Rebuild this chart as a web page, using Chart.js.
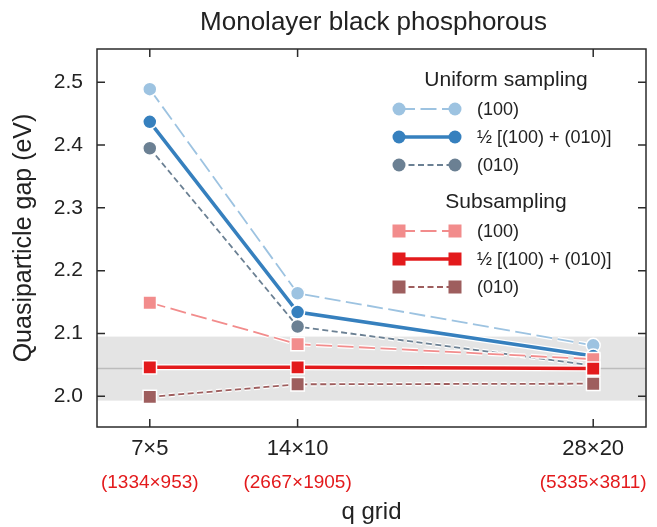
<!DOCTYPE html>
<html>
<head>
<meta charset="utf-8">
<script src="https://cdn.jsdelivr.net/npm/chart.js@4"></script>
<style>body{margin:0;background:#fff}</style>
</head>
<body>
<canvas id="chart" width="657" height="527"></canvas>
<script>
// q grids (kx is used as the x position), and the matching fine grids
const qGrid = [7, 14, 28];
const gridLabels = ['7×5', '14×10', '28×20'];
const fineLabels = ['(1334×953)', '(2667×1905)', '(5335×3811)'];
const yTicks = [2.0, 2.1, 2.2, 2.3, 2.4, 2.5];

// quasiparticle gaps (eV)
const uniform100 = [2.489, 2.164, 2.081];
const uniformAvg = [2.437, 2.134, 2.064];
const uniform010 = [2.395, 2.111, 2.049];
const sub100 = [2.149, 2.083, 2.059];
const subAvg = [2.046, 2.046, 2.044];
const sub010 = [1.999, 2.019, 2.020];

// reference gap and its band
const refGap = 2.044;
const refBand = [1.993, 2.095];

const groups = ['Uniform sampling', 'Subsampling'];

// drawing order: bottom first
const series = [
  {group: 0, row: 0, label: '(100)', data: uniform100, color: '#9dc3e1', dash: [16, 5.5], width: 1.8, marker: 'circle'},
  {group: 0, row: 2, label: '(010)', data: uniform010, color: '#6b8093', dash: [6, 3.5], width: 1.8, marker: 'circle'},
  {group: 0, row: 1, label: '½ [(100) + (010)]', data: uniformAvg, color: '#3680be', dash: [], width: 3.5, marker: 'circle'},
  {group: 1, row: 0, label: '(100)', data: sub100, color: '#f28c8c', dash: [16, 5.5], width: 1.8, marker: 'rect'},
  {group: 1, row: 2, label: '(010)', data: sub010, color: '#9e5e5e', dash: [6, 3.5], width: 1.8, marker: 'rect'},
  {group: 1, row: 1, label: '½ [(100) + (010)]', data: subAvg, color: '#e31a1c', dash: [], width: 3.5, marker: 'rect'}
];

const FONT = "'Liberation Sans', Arial, sans-serif";
Chart.defaults.font.family = FONT;
Chart.defaults.color = '#222';

const datasets = [];
series.forEach((s, k) => {
  const pts = qGrid.map((x, i) => ({x: x, y: s.data[i]}));
  // white halo under each line
  datasets.push({
    data: pts, borderColor: '#fff', borderWidth: s.width + 2.5, borderDash: s.dash,
    pointRadius: 0, order: 12 - 2 * k
  });
  datasets.push({
    label: s.label, data: pts, borderColor: s.color, borderWidth: s.width, borderDash: s.dash,
    pointStyle: s.marker, pointRadius: s.marker == 'rect' ? 9.5 : 7,
    pointBackgroundColor: s.color, pointBorderColor: '#fff', pointBorderWidth: 1.5,
    order: 11 - 2 * k
  });
});

function legendMarker(ctx, s, x, y) {
  ctx.fillStyle = s.color;
  if (s.marker == 'rect') {
    ctx.fillRect(x - 6.5, y - 6.5, 13, 13);
  } else {
    ctx.beginPath();
    ctx.arc(x, y, 6.5, 0, Math.PI * 2);
    ctx.fill();
  }
}

const decor = {
  id: 'decor',
  beforeDatasetsDraw(chart) {
    const {ctx, chartArea: a, scales: {y}} = chart;
    const top = y.getPixelForValue(refBand[1]);
    const bot = y.getPixelForValue(refBand[0]);
    const yc = y.getPixelForValue(refGap);
    ctx.save();
    ctx.fillStyle = '#e4e4e4';
    ctx.fillRect(a.left, top, a.right - a.left, bot - top);
    ctx.strokeStyle = '#bcbcbc';
    ctx.lineWidth = 1.5;
    ctx.beginPath();
    ctx.moveTo(a.left, yc);
    ctx.lineTo(a.right, yc);
    ctx.stroke();
    ctx.restore();
  },
  afterDraw(chart) {
    const {ctx, chartArea: a, scales: {x, y}} = chart;
    ctx.save();
    // frame + inward ticks
    ctx.strokeStyle = '#2b2b2b';
    ctx.lineWidth = 1.5;
    ctx.strokeRect(a.left, a.top, a.right - a.left, a.bottom - a.top);
    ctx.beginPath();
    qGrid.forEach(v => {
      const px = x.getPixelForValue(v);
      ctx.moveTo(px, a.bottom); ctx.lineTo(px, a.bottom - 8);
      ctx.moveTo(px, a.top); ctx.lineTo(px, a.top + 8);
    });
    yTicks.forEach(v => {
      const py = y.getPixelForValue(v);
      ctx.moveTo(a.left, py); ctx.lineTo(a.left + 8, py);
      ctx.moveTo(a.right, py); ctx.lineTo(a.right - 8, py);
    });
    ctx.stroke();

    // title
    ctx.fillStyle = '#222';
    ctx.font = '26px ' + FONT;
    ctx.textAlign = 'center';
    ctx.textBaseline = 'alphabetic';
    ctx.fillText('Monolayer black phosphorous', (a.left + a.right) / 2 + 2, 30);

    // legend
    const headY = [80, 202];
    const rowY = [[109, 137, 165], [231, 259, 287]];
    ctx.font = '21px ' + FONT;
    ctx.textBaseline = 'middle';
    groups.forEach((g, i) => ctx.fillText(g, 506, headY[i]));
    ctx.font = '18px ' + FONT;
    ctx.textAlign = 'left';
    series.forEach(s => {
      const ly = rowY[s.group][s.row];
      ctx.strokeStyle = s.color;
      ctx.lineWidth = s.width;
      ctx.setLineDash(s.dash);
      ctx.beginPath();
      ctx.moveTo(399, ly);
      ctx.lineTo(455, ly);
      ctx.stroke();
      ctx.setLineDash([]);
      legendMarker(ctx, s, 399, ly);
      legendMarker(ctx, s, 455, ly);
      ctx.fillStyle = '#222';
      ctx.fillText(s.label, 477, ly + 1);
    });
    ctx.restore();
  }
};

const setQTicks = s => { s.ticks = qGrid.map(v => ({value: v})); };

new Chart(document.getElementById('chart'), {
  type: 'line',
  data: {datasets: datasets},
  options: {
    responsive: false,
    animation: false,
    layout: {padding: {top: 49, right: 5, left: 0, bottom: 0}},
    plugins: {legend: {display: false}, tooltip: {enabled: false}},
    scales: {
      x: {
        type: 'linear', min: 4.5, max: 30.5, weight: 0,
        grid: {display: false, drawTicks: false}, border: {display: false},
        afterBuildTicks: setQTicks,
        ticks: {
          font: {size: 22}, color: '#222', padding: 9, maxRotation: 0, autoSkip: false,
          callback: v => gridLabels[qGrid.indexOf(v)]
        },
        afterFit: s => { s.height = 38; }
      },
      x2: {
        type: 'linear', position: 'bottom', min: 4.5, max: 30.5, weight: 1,
        grid: {display: false, drawTicks: false}, border: {display: false},
        afterBuildTicks: setQTicks,
        ticks: {
          font: {size: 19}, color: '#e31a1c', padding: 6, maxRotation: 0, autoSkip: false,
          callback: v => fineLabels[qGrid.indexOf(v)]
        },
        title: {display: true, text: 'q grid', font: {size: 24}, color: '#222', padding: 0},
        afterFit: s => { s.height = 62; }
      },
      y: {
        min: 1.951, max: 2.553,
        grid: {display: false, drawTicks: false}, border: {display: false},
        afterBuildTicks: s => { s.ticks = yTicks.map(v => ({value: v})); },
        ticks: {font: {size: 21}, color: '#222', padding: 14, callback: v => v.toFixed(1)},
        title: {display: true, text: 'Quasiparticle gap (eV)', font: {size: 25}, color: '#222', padding: {top: 9}},
        afterFit: s => { s.width = 97; }
      }
    }
  },
  plugins: [decor]
});
</script>
</body>
</html>
